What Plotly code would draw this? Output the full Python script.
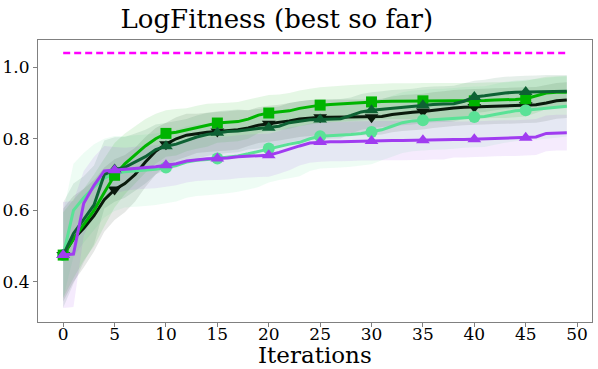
import plotly.graph_objects as go

iterations = list(range(50))

target_value = 1.04

lg_mean = [0.475, 0.600, 0.635, 0.665, 0.690, 0.703, 0.708, 0.710, 0.712, 0.715,
           0.720, 0.725, 0.735, 0.740, 0.742, 0.745, 0.748, 0.752, 0.758, 0.765,
           0.773, 0.780, 0.785, 0.790, 0.800, 0.807, 0.808, 0.810, 0.812, 0.815,
           0.819, 0.825, 0.835, 0.845, 0.850, 0.852, 0.854, 0.855, 0.857, 0.860,
           0.861, 0.862, 0.868, 0.874, 0.878, 0.880, 0.882, 0.885, 0.888, 0.891]
lg_std = [0.120, 0.130, 0.125, 0.120, 0.110, 0.105, 0.100, 0.100, 0.100, 0.100,
          0.100, 0.100, 0.100, 0.100, 0.100, 0.100, 0.100, 0.100, 0.100, 0.100,
          0.095, 0.095, 0.095, 0.095, 0.090, 0.090, 0.090, 0.090, 0.090, 0.090,
          0.090, 0.085, 0.085, 0.085, 0.085, 0.085, 0.085, 0.085, 0.085, 0.085,
          0.085, 0.085, 0.085, 0.085, 0.085, 0.085, 0.085, 0.085, 0.085, 0.085]

bg_mean = [0.475, 0.520, 0.560, 0.600, 0.650, 0.698, 0.730, 0.755, 0.780, 0.800,
           0.815, 0.818, 0.825, 0.832, 0.838, 0.844, 0.846, 0.848, 0.855, 0.866,
           0.872, 0.874, 0.878, 0.885, 0.890, 0.894, 0.896, 0.898, 0.900, 0.902,
           0.903, 0.904, 0.905, 0.905, 0.905, 0.906, 0.906, 0.906, 0.906, 0.906,
           0.906, 0.907, 0.908, 0.908, 0.910, 0.912, 0.920, 0.928, 0.930, 0.930]
bg_std = [0.120, 0.110, 0.100, 0.100, 0.095, 0.090, 0.085, 0.080, 0.075, 0.070,
          0.065, 0.065, 0.060, 0.060, 0.060, 0.055, 0.055, 0.055, 0.055, 0.050,
          0.050, 0.050, 0.050, 0.050, 0.050, 0.050, 0.050, 0.050, 0.050, 0.050,
          0.050, 0.050, 0.050, 0.050, 0.050, 0.050, 0.050, 0.050, 0.050, 0.050,
          0.050, 0.050, 0.050, 0.050, 0.050, 0.050, 0.048, 0.045, 0.045, 0.045]

k_mean = [0.475, 0.520, 0.550, 0.585, 0.630, 0.658, 0.675, 0.700, 0.735, 0.765,
          0.785, 0.800, 0.810, 0.815, 0.818, 0.820, 0.822, 0.825, 0.830, 0.838,
          0.842, 0.845, 0.850, 0.855, 0.858, 0.860, 0.860, 0.860, 0.860, 0.860,
          0.860, 0.862, 0.868, 0.872, 0.874, 0.876, 0.880, 0.883, 0.886, 0.888,
          0.889, 0.890, 0.891, 0.892, 0.893, 0.894, 0.895, 0.900, 0.906, 0.908]
k_std = [0.130, 0.120, 0.110, 0.100, 0.090, 0.085, 0.080, 0.075, 0.070, 0.065,
         0.060, 0.060, 0.060, 0.055, 0.055, 0.055, 0.055, 0.055, 0.050, 0.050,
         0.050, 0.050, 0.050, 0.050, 0.050, 0.050, 0.050, 0.050, 0.050, 0.050,
         0.050, 0.050, 0.050, 0.050, 0.050, 0.050, 0.050, 0.050, 0.050, 0.050,
         0.050, 0.050, 0.050, 0.050, 0.050, 0.050, 0.050, 0.050, 0.050, 0.050]

dg_mean = [0.475, 0.535, 0.575, 0.615, 0.700, 0.714, 0.720, 0.735, 0.750, 0.770,
           0.779, 0.785, 0.795, 0.805, 0.812, 0.817, 0.820, 0.822, 0.825, 0.828,
           0.831, 0.835, 0.845, 0.850, 0.853, 0.854, 0.855, 0.856, 0.865, 0.875,
           0.880, 0.883, 0.886, 0.888, 0.890, 0.894, 0.896, 0.897, 0.898, 0.905,
           0.917, 0.920, 0.925, 0.928, 0.930, 0.931, 0.932, 0.933, 0.933, 0.933]
dg_std = [0.147, 0.140, 0.120, 0.110, 0.095, 0.090, 0.085, 0.080, 0.075, 0.070,
          0.065, 0.065, 0.060, 0.060, 0.060, 0.060, 0.060, 0.060, 0.055, 0.055,
          0.055, 0.055, 0.055, 0.055, 0.055, 0.055, 0.055, 0.055, 0.050, 0.050,
          0.050, 0.050, 0.050, 0.050, 0.050, 0.050, 0.050, 0.050, 0.050, 0.050,
          0.045, 0.045, 0.045, 0.045, 0.045, 0.045, 0.045, 0.045, 0.045, 0.045]

p_mean = [0.475, 0.478, 0.620, 0.670, 0.710, 0.712, 0.715, 0.718, 0.720, 0.722,
          0.726, 0.730, 0.738, 0.742, 0.744, 0.745, 0.746, 0.750, 0.752, 0.753,
          0.754, 0.762, 0.772, 0.780, 0.788, 0.791, 0.792, 0.792, 0.793, 0.794,
          0.794, 0.795, 0.795, 0.795, 0.796, 0.796, 0.797, 0.797, 0.798, 0.798,
          0.799, 0.800, 0.801, 0.802, 0.802, 0.803, 0.805, 0.815, 0.817, 0.817]
p_std = [0.148, 0.148, 0.090, 0.080, 0.070, 0.065, 0.060, 0.060, 0.060, 0.060,
         0.060, 0.060, 0.060, 0.060, 0.060, 0.060, 0.060, 0.060, 0.060, 0.060,
         0.060, 0.060, 0.060, 0.055, 0.055, 0.055, 0.055, 0.055, 0.055, 0.055,
         0.055, 0.055, 0.055, 0.055, 0.055, 0.055, 0.055, 0.055, 0.050, 0.050,
         0.050, 0.050, 0.050, 0.050, 0.050, 0.050, 0.050, 0.050, 0.050, 0.050]

x_ticks = [0, 5, 10, 15, 20, 25, 30, 35, 40, 45, 50]
y_ticks = [0.4, 0.6, 0.8, 1.0]

series = [
    ("k", k_mean, k_std, (10, 26, 12), "triangle-down"),
    ("lg", lg_mean, lg_std, (90, 226, 150), "circle"),
    ("bg", bg_mean, bg_std, (0, 180, 0), "square"),
    ("dg", dg_mean, dg_std, (14, 98, 52), "triangle-up"),
    ("p", p_mean, p_std, (160, 60, 240), "triangle-up"),
]

fig = go.Figure()

# bands first
for name, mean, std, rgb, sym in series:
    upper = [m + s for m, s in zip(mean, std)]
    lower = [m - s for m, s in zip(mean, std)]
    fig.add_trace(go.Scatter(
        x=iterations + iterations[::-1],
        y=upper + lower[::-1],
        fill="toself", mode="none",
        fillcolor="rgba(%d,%d,%d,0.10)" % rgb,
        hoverinfo="skip", showlegend=False))

for name, mean, std, rgb, sym in series:
    col = "rgb(%d,%d,%d)" % rgb
    fig.add_trace(go.Scatter(
        x=iterations, y=mean, mode="lines",
        line=dict(color=col, width=3), showlegend=False))
    mx = iterations[::5]
    my = mean[::5]
    fig.add_trace(go.Scatter(
        x=mx, y=my, mode="markers",
        marker=dict(color=col, symbol=sym, size=12 if sym != "square" else 11,
                    line=dict(width=0)),
        showlegend=False))

fig.add_trace(go.Scatter(
    x=iterations, y=[target_value] * len(iterations), mode="lines",
    line=dict(color="#ff00ff", width=2.5, dash="7px,4px"), showlegend=False))

axis_common = dict(
    showline=True, linecolor="#808080", linewidth=1, mirror=True,
    showgrid=False, zeroline=False, ticks="outside", ticklen=4,
    tickcolor="#808080", automargin=False,
    tickfont=dict(size=17, color="black", family="DejaVu Serif"),
)

fig.update_layout(
    width=598, height=369,
    margin=dict(l=38, r=6, t=40, b=47),
    paper_bgcolor="white", plot_bgcolor="white",
    title=dict(text="LogFitness (best so far)", xref="container",
               x=0.463, xanchor="center", y=0.95, yanchor="middle",
               font=dict(family="DejaVu Serif", size=26, color="black")),
    xaxis=dict(range=[-2.45, 51.45], tickvals=x_ticks, ticklabelstandoff=-7,
               **axis_common),
    yaxis=dict(range=[0.288, 1.076], tickvals=y_ticks, tickformat=".1f",
               **axis_common),
    annotations=[dict(text="Iterations", xref="paper", yref="paper",
                      x=0.5, y=-0.118, xanchor="center", yanchor="middle",
                      showarrow=False,
                      font=dict(family="DejaVu Serif", size=23,
                                color="black"))],
)

fig.write_html("out.html",
               config={"displayModeBar": False},
               post_script="document.body.style.margin='0';"
                           "document.body.style.overflow='hidden';")
